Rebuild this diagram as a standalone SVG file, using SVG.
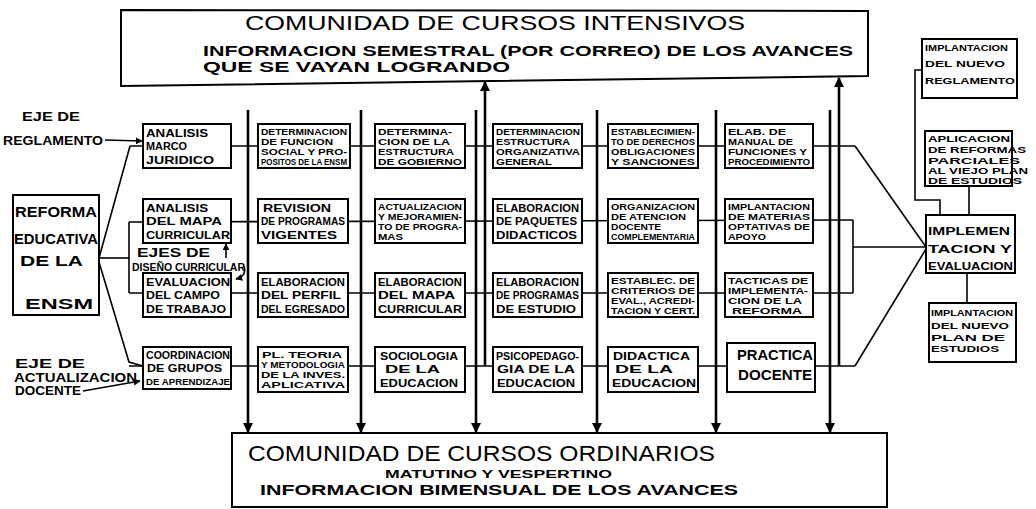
<svg xmlns="http://www.w3.org/2000/svg" width="1036" height="509" viewBox="0 0 1036 509">
<style>
.bx{fill:#fff;stroke:#000;stroke-width:2}
.t{font-family:"Liberation Sans",Arial,sans-serif;font-weight:bold;fill:#000}
.s9{font-size:9.5px}
.s11{font-size:11px}
.s13{font-size:13px}
.s14{font-size:14px}
.h{font-family:"Liberation Sans",Arial,sans-serif;fill:#000}
.ln{stroke:#000;stroke-width:1.6;fill:none}
.vl{stroke:#000;stroke-width:2.6;fill:none}
</style>
<defs>
<marker id="ah" viewBox="0 0 10 10" refX="9" refY="5" markerWidth="10" markerHeight="10" markerUnits="userSpaceOnUse" orient="auto"><path d="M0,0L10,5L0,10z" fill="#000"/></marker>
<marker id="sa" viewBox="0 0 10 10" refX="9" refY="5" markerWidth="7" markerHeight="7" markerUnits="userSpaceOnUse" orient="auto"><path d="M0,0L10,5L0,10z" fill="#000"/></marker>
</defs>
<rect width="1036" height="509" fill="#fff"/>

<g id="connectors">
  <line class="ln" x1="130" y1="146" x2="855" y2="146"/>
  <line class="ln" x1="129" y1="222" x2="853" y2="220"/>
  <line class="ln" x1="129" y1="293" x2="853" y2="293"/>
  <line class="ln" x1="129" y1="366" x2="855" y2="366"/>
  <line class="ln" x1="129" y1="222" x2="129" y2="293"/>
  <line class="ln" x1="853" y1="220" x2="853" y2="293"/>
  <line class="ln" x1="99" y1="258" x2="130" y2="146"/>
  <line class="ln" x1="99" y1="258" x2="129" y2="258"/>
  <polyline class="ln" points="99,262 129,362 143,366"/>
  <line class="ln" x1="855" y1="146" x2="926" y2="247"/>
  <line class="ln" x1="853" y1="247" x2="926" y2="247"/>
  <line class="ln" x1="855" y1="366" x2="926" y2="249"/>
  <line class="vl" x1="248" y1="110" x2="248" y2="432" marker-end="url(#ah)"/>
  <line class="vl" x1="361" y1="110" x2="361" y2="432" marker-end="url(#ah)"/>
  <line class="vl" x1="476" y1="110" x2="476" y2="432" marker-end="url(#ah)"/>
  <line class="vl" x1="485" y1="366" x2="485" y2="82" marker-end="url(#ah)"/>
  <line class="vl" x1="597" y1="110" x2="597" y2="432" marker-end="url(#ah)"/>
  <line class="vl" x1="716" y1="110" x2="716" y2="432" marker-end="url(#ah)"/>
  <line class="vl" x1="830" y1="110" x2="830" y2="432" marker-end="url(#ah)"/>
  <line class="vl" x1="839" y1="366" x2="839" y2="78" stroke-width="4" marker-end="url(#ah)"/>
  <polyline class="ln" points="922,70 915,70 915,200 940,200 940,215"/>
  <line class="ln" x1="969" y1="186" x2="969" y2="215"/>
  <line class="ln" x1="967" y1="273" x2="967" y2="303"/>
  <line class="ln" x1="105" y1="140" x2="142" y2="141" marker-end="url(#sa)"/>
  <line class="ln" x1="83" y1="391" x2="140" y2="381" marker-end="url(#sa)"/>
  <line class="ln" x1="226" y1="258" x2="226" y2="244" marker-end="url(#sa)"/>
  <path class="ln" d="M244,266 Q247,276 236,279" marker-end="url(#sa)"/>
</g>

<g id="comunidad-intensivos">
  <polygon class="bx" points="121,10 868,11 868,76 121,86"/>
  <text class="h" x="245" y="30" font-size="20" textLength="500" lengthAdjust="spacingAndGlyphs">COMUNIDAD DE CURSOS INTENSIVOS</text>
  <text class="t" x="203" y="56" font-size="15" textLength="650" lengthAdjust="spacingAndGlyphs">INFORMACION SEMESTRAL (POR CORREO) DE LOS AVANCES</text>
  <text class="t" x="203" y="72" font-size="14" textLength="307" lengthAdjust="spacingAndGlyphs">QUE SE VAYAN LOGRANDO</text>
</g>

<g id="comunidad-ordinarios">
  <rect class="bx" x="232" y="433" width="655" height="74"/>
  <text class="h" x="248" y="461" font-size="22" textLength="467" lengthAdjust="spacingAndGlyphs">COMUNIDAD DE CURSOS ORDINARIOS</text>
  <text class="t" x="385" y="478" font-size="11" textLength="227" lengthAdjust="spacingAndGlyphs">MATUTINO Y VESPERTINO</text>
  <text class="t" x="260" y="495" font-size="15" textLength="478" lengthAdjust="spacingAndGlyphs">INFORMACION BIMENSUAL DE LOS AVANCES</text>
</g>

<g id="eje-reglamento">
  <text class="t s13" x="22" y="121" textLength="58" lengthAdjust="spacingAndGlyphs">EJE DE</text>
  <text class="t s13" x="3" y="145" textLength="100" lengthAdjust="spacingAndGlyphs">REGLAMENTO</text>
</g>
<g id="eje-actualizacion">
  <text class="t s13" x="15" y="368" textLength="70" lengthAdjust="spacingAndGlyphs">EJE DE</text>
  <text class="t s13" x="14" y="382" textLength="123" lengthAdjust="spacingAndGlyphs">ACTUALIZACION</text>
  <text class="t s13" x="15" y="395" textLength="66" lengthAdjust="spacingAndGlyphs">DOCENTE</text>
</g>
<g id="ejes-diseno">
  <text class="t" x="137" y="257" font-size="12" textLength="73" lengthAdjust="spacingAndGlyphs">EJES DE</text>
  <text class="t" x="132" y="271" font-size="11" textLength="113" lengthAdjust="spacingAndGlyphs">DISEÑO CURRICULAR</text>
</g>

<g id="reforma">
  <rect class="bx" x="13" y="195" width="86" height="120"/>
  <text class="t s14" x="15" y="217" textLength="82" lengthAdjust="spacingAndGlyphs">REFORMA</text>
  <text class="t s14" x="14" y="244" textLength="84" lengthAdjust="spacingAndGlyphs">EDUCATIVA</text>
  <text class="t s14" x="20" y="266" textLength="63" lengthAdjust="spacingAndGlyphs">DE LA</text>
  <text class="t s14" x="25" y="309" textLength="68" lengthAdjust="spacingAndGlyphs">ENSM</text>
</g>

<!-- Row 1 -->
<g id="r1c1">
  <rect class="bx" x="143" y="124" width="88" height="44"/>
  <text class="t s11" x="146" y="136.5" textLength="62" lengthAdjust="spacingAndGlyphs">ANALISIS</text>
  <text class="t s11" x="146" y="150" textLength="41" lengthAdjust="spacingAndGlyphs">MARCO</text>
  <text class="t s11" x="146" y="163.5" textLength="68" lengthAdjust="spacingAndGlyphs">JURIDICO</text>
</g>
<g id="r1c2">
  <rect class="bx" x="258" y="124" width="92" height="44"/>
  <text class="t s9" x="261" y="134.5" textLength="86" lengthAdjust="spacingAndGlyphs">DETERMINACION</text>
  <text class="t s9" x="261" y="144.8" textLength="72" lengthAdjust="spacingAndGlyphs">DE FUNCION</text>
  <text class="t s9" x="261" y="155.1" textLength="86" lengthAdjust="spacingAndGlyphs">SOCIAL Y PRO-</text>
  <text class="t s9" x="261" y="165.4" textLength="86" lengthAdjust="spacingAndGlyphs">POSITOS DE LA ENSM</text>
</g>
<g id="r1c3">
  <rect class="bx" x="375" y="124" width="90" height="44"/>
  <text class="t s9" x="378" y="134.5" textLength="74" lengthAdjust="spacingAndGlyphs">DETERMINA-</text>
  <text class="t s9" x="378" y="144.8" textLength="72" lengthAdjust="spacingAndGlyphs">CION DE LA</text>
  <text class="t s9" x="378" y="155.1" textLength="76" lengthAdjust="spacingAndGlyphs">ESTRUCTURA</text>
  <text class="t s9" x="378" y="165.4" textLength="84" lengthAdjust="spacingAndGlyphs">DE GOBIERNO</text>
</g>
<g id="r1c4">
  <rect class="bx" x="493" y="124" width="89" height="44"/>
  <text class="t s9" x="496" y="134.5" textLength="84" lengthAdjust="spacingAndGlyphs">DETERMINACION</text>
  <text class="t s9" x="496" y="144.8" textLength="74" lengthAdjust="spacingAndGlyphs">ESTRUCTURA</text>
  <text class="t s9" x="496" y="155.1" textLength="84" lengthAdjust="spacingAndGlyphs">ORGANIZATIVA</text>
  <text class="t s9" x="496" y="165.4" textLength="56" lengthAdjust="spacingAndGlyphs">GENERAL</text>
</g>
<g id="r1c5">
  <rect class="bx" x="608" y="124" width="90" height="44"/>
  <text class="t s9" x="611" y="134.5" textLength="84" lengthAdjust="spacingAndGlyphs">ESTABLECIMIEN-</text>
  <text class="t s9" x="611" y="144.8" textLength="84" lengthAdjust="spacingAndGlyphs">TO DE DERECHOS</text>
  <text class="t s9" x="611" y="155.1" textLength="84" lengthAdjust="spacingAndGlyphs">OBLIGACIONES</text>
  <text class="t s9" x="611" y="165.4" textLength="84" lengthAdjust="spacingAndGlyphs">Y SANCIONES</text>
</g>
<g id="r1c6">
  <rect class="bx" x="725" y="124" width="88" height="44"/>
  <text class="t s9" x="728" y="134.5" textLength="58" lengthAdjust="spacingAndGlyphs">ELAB. DE</text>
  <text class="t s9" x="728" y="144.8" textLength="65" lengthAdjust="spacingAndGlyphs">MANUAL DE</text>
  <text class="t s9" x="728" y="155.1" textLength="79" lengthAdjust="spacingAndGlyphs">FUNCIONES Y</text>
  <text class="t s9" x="728" y="165.4" textLength="82" lengthAdjust="spacingAndGlyphs">PROCEDIMIENTO</text>
</g>

<!-- Row 2 -->
<g id="r2c1">
  <rect class="bx" x="143" y="199" width="88" height="44"/>
  <text class="t s11" x="146" y="211.5" textLength="62" lengthAdjust="spacingAndGlyphs">ANALISIS</text>
  <text class="t s11" x="146" y="225" textLength="76" lengthAdjust="spacingAndGlyphs">DEL MAPA</text>
  <text class="t s11" x="146" y="238.5" textLength="84" lengthAdjust="spacingAndGlyphs">CURRICULAR</text>
</g>
<g id="r2c2">
  <rect class="bx" x="258" y="199" width="90" height="44"/>
  <text class="t s11" x="263" y="211.5" textLength="68" lengthAdjust="spacingAndGlyphs">REVISION</text>
  <text class="t s11" x="261" y="225" textLength="84" lengthAdjust="spacingAndGlyphs">DE PROGRAMAS</text>
  <text class="t s11" x="261" y="238.5" textLength="76" lengthAdjust="spacingAndGlyphs">VIGENTES</text>
</g>
<g id="r2c3">
  <rect class="bx" x="375" y="199" width="90" height="44"/>
  <text class="t s9" x="378" y="209.5" textLength="84" lengthAdjust="spacingAndGlyphs">ACTUALIZACION</text>
  <text class="t s9" x="378" y="219.8" textLength="84" lengthAdjust="spacingAndGlyphs">Y MEJORAMIEN-</text>
  <text class="t s9" x="378" y="230.1" textLength="84" lengthAdjust="spacingAndGlyphs">TO DE PROGRA-</text>
  <text class="t s9" x="378" y="240.4" textLength="25" lengthAdjust="spacingAndGlyphs">MAS</text>
</g>
<g id="r2c4">
  <rect class="bx" x="493" y="199" width="89" height="44"/>
  <text class="t s11" x="496" y="211.5" textLength="83" lengthAdjust="spacingAndGlyphs">ELABORACION</text>
  <text class="t s11" x="496" y="225" textLength="81" lengthAdjust="spacingAndGlyphs">DE PAQUETES</text>
  <text class="t s11" x="496" y="238.5" textLength="81" lengthAdjust="spacingAndGlyphs">DIDACTICOS</text>
</g>
<g id="r2c5">
  <rect class="bx" x="608" y="199" width="90" height="44"/>
  <text class="t s9" x="611" y="209.5" textLength="84" lengthAdjust="spacingAndGlyphs">ORGANIZACION</text>
  <text class="t s9" x="611" y="219.8" textLength="75" lengthAdjust="spacingAndGlyphs">DE ATENCION</text>
  <text class="t s9" x="611" y="230.1" textLength="50" lengthAdjust="spacingAndGlyphs">DOCENTE</text>
  <text class="t s9" x="611" y="240.4" textLength="84" lengthAdjust="spacingAndGlyphs">COMPLEMENTARIA</text>
</g>
<g id="r2c6">
  <rect class="bx" x="725" y="199" width="88" height="44"/>
  <text class="t s9" x="728" y="209.5" textLength="82" lengthAdjust="spacingAndGlyphs">IMPLANTACION</text>
  <text class="t s9" x="728" y="219.8" textLength="82" lengthAdjust="spacingAndGlyphs">DE MATERIAS</text>
  <text class="t s9" x="728" y="230.1" textLength="82" lengthAdjust="spacingAndGlyphs">OPTATIVAS DE</text>
  <text class="t s9" x="728" y="240.4" textLength="38" lengthAdjust="spacingAndGlyphs">APOYO</text>
</g>

<!-- Row 3 -->
<g id="r3c1">
  <rect class="bx" x="143" y="273" width="88" height="44"/>
  <text class="t s11" x="146" y="285.5" textLength="84" lengthAdjust="spacingAndGlyphs">EVALUACION</text>
  <text class="t s11" x="146" y="299" textLength="74" lengthAdjust="spacingAndGlyphs">DEL CAMPO</text>
  <text class="t s11" x="146" y="312.5" textLength="80" lengthAdjust="spacingAndGlyphs">DE TRABAJO</text>
</g>
<g id="r3c2">
  <rect class="bx" x="258" y="273" width="90" height="44"/>
  <text class="t s11" x="261" y="285.5" textLength="84" lengthAdjust="spacingAndGlyphs">ELABORACION</text>
  <text class="t s11" x="261" y="299" textLength="80" lengthAdjust="spacingAndGlyphs">DEL PERFIL</text>
  <text class="t s11" x="261" y="312.5" textLength="84" lengthAdjust="spacingAndGlyphs">DEL EGRESADO</text>
</g>
<g id="r3c3">
  <rect class="bx" x="375" y="273" width="90" height="44"/>
  <text class="t s11" x="378" y="285.5" textLength="84" lengthAdjust="spacingAndGlyphs">ELABORACION</text>
  <text class="t s11" x="378" y="299" textLength="77" lengthAdjust="spacingAndGlyphs">DEL MAPA</text>
  <text class="t s11" x="378" y="312.5" textLength="84" lengthAdjust="spacingAndGlyphs">CURRICULAR</text>
</g>
<g id="r3c4">
  <rect class="bx" x="493" y="273" width="89" height="44"/>
  <text class="t s11" x="496" y="285.5" textLength="83" lengthAdjust="spacingAndGlyphs">ELABORACION</text>
  <text class="t s11" x="496" y="299" textLength="83" lengthAdjust="spacingAndGlyphs">DE PROGRAMAS</text>
  <text class="t s11" x="496" y="312.5" textLength="80" lengthAdjust="spacingAndGlyphs">DE ESTUDIO</text>
</g>
<g id="r3c5">
  <rect class="bx" x="608" y="273" width="90" height="44"/>
  <text class="t s9" x="611" y="283.5" textLength="84" lengthAdjust="spacingAndGlyphs">ESTABLEC. DE</text>
  <text class="t s9" x="611" y="293.8" textLength="84" lengthAdjust="spacingAndGlyphs">CRITERIOS DE</text>
  <text class="t s9" x="611" y="304.1" textLength="84" lengthAdjust="spacingAndGlyphs">EVAL., ACREDI-</text>
  <text class="t s9" x="611" y="314.4" textLength="84" lengthAdjust="spacingAndGlyphs">TACION Y CERT.</text>
</g>
<g id="r3c6">
  <rect class="bx" x="725" y="273" width="88" height="44"/>
  <text class="t s9" x="728" y="283.5" textLength="80" lengthAdjust="spacingAndGlyphs">TACTICAS DE</text>
  <text class="t s9" x="728" y="293.8" textLength="80" lengthAdjust="spacingAndGlyphs">IMPLEMENTA-</text>
  <text class="t s9" x="728" y="304.1" textLength="74" lengthAdjust="spacingAndGlyphs">CION DE LA</text>
  <text class="t s9" x="732" y="314.4" textLength="70" lengthAdjust="spacingAndGlyphs">REFORMA</text>
</g>

<!-- Row 4 -->
<g id="r4c1">
  <rect class="bx" x="143" y="347" width="88" height="42"/>
  <text class="t s11" x="146" y="359" textLength="84" lengthAdjust="spacingAndGlyphs">COORDINACION</text>
  <text class="t s11" x="147" y="372" textLength="75" lengthAdjust="spacingAndGlyphs">DE GRUPOS</text>
  <text class="t" font-size="9.5" x="146" y="384.5" textLength="84" lengthAdjust="spacingAndGlyphs">DE APRENDIZAJE</text>
</g>
<g id="r4c2">
  <rect class="bx" x="258" y="347" width="90" height="45"/>
  <text class="t s9" x="262" y="357.5" textLength="80" lengthAdjust="spacingAndGlyphs">PL. TEORIA</text>
  <text class="t s9" x="261" y="367.8" textLength="84" lengthAdjust="spacingAndGlyphs">Y METODOLOGIA</text>
  <text class="t s9" x="261" y="378.1" textLength="84" lengthAdjust="spacingAndGlyphs">DE LA INVES.</text>
  <text class="t s9" x="261" y="388.4" textLength="84" lengthAdjust="spacingAndGlyphs">APLICATIVA</text>
</g>
<g id="r4c3">
  <rect class="bx" x="375" y="347" width="90" height="45"/>
  <text class="t s11" x="380" y="359.5" textLength="78" lengthAdjust="spacingAndGlyphs">SOCIOLOGIA</text>
  <text class="t s11" x="385" y="373" textLength="55" lengthAdjust="spacingAndGlyphs">DE LA</text>
  <text class="t s11" x="380" y="386.5" textLength="78" lengthAdjust="spacingAndGlyphs">EDUCACION</text>
</g>
<g id="r4c4">
  <rect class="bx" x="493" y="347" width="89" height="45"/>
  <text class="t s11" x="496" y="359.5" textLength="83" lengthAdjust="spacingAndGlyphs">PSICOPEDAGO-</text>
  <text class="t s11" x="497" y="373" textLength="78" lengthAdjust="spacingAndGlyphs">GIA DE LA</text>
  <text class="t s11" x="497" y="386.5" textLength="78" lengthAdjust="spacingAndGlyphs">EDUCACION</text>
</g>
<g id="r4c5">
  <rect class="bx" x="608" y="347" width="90" height="45"/>
  <text class="t s11" x="613" y="359.5" textLength="77" lengthAdjust="spacingAndGlyphs">DIDACTICA</text>
  <text class="t s11" x="615" y="373" textLength="58" lengthAdjust="spacingAndGlyphs">DE LA</text>
  <text class="t s11" x="612" y="386.5" textLength="84" lengthAdjust="spacingAndGlyphs">EDUCACION</text>
</g>
<g id="r4c6">
  <rect class="bx" x="727" y="343" width="88" height="49"/>
  <text class="t s14" x="737" y="360" textLength="76" lengthAdjust="spacingAndGlyphs">PRACTICA</text>
  <text class="t s14" x="738" y="380" textLength="74" lengthAdjust="spacingAndGlyphs">DOCENTE</text>
</g>

<!-- Right side -->
<g id="nuevo-reglamento">
  <rect class="bx" x="922" y="39" width="95" height="59"/>
  <text class="t s9" x="925" y="50.5" textLength="83" lengthAdjust="spacingAndGlyphs">IMPLANTACION</text>
  <text class="t s9" x="925" y="66.5" textLength="80" lengthAdjust="spacingAndGlyphs">DEL NUEVO</text>
  <text class="t s9" x="925" y="83.5" textLength="90" lengthAdjust="spacingAndGlyphs">REGLAMENTO</text>
</g>
<g id="reformas-parciales">
  <rect class="bx" x="925" y="131" width="87" height="55"/>
  <text class="t" font-size="9" x="928" y="141.5" textLength="82" lengthAdjust="spacingAndGlyphs">APLICACION</text>
  <text class="t" font-size="9" x="928" y="153" textLength="98" lengthAdjust="spacingAndGlyphs">DE REFORMAS</text>
  <text class="t" font-size="9" x="928" y="164" textLength="92" lengthAdjust="spacingAndGlyphs">PARCIALES</text>
  <text class="t" font-size="9" x="928" y="174" textLength="100" lengthAdjust="spacingAndGlyphs">AL VIEJO PLAN</text>
  <text class="t" font-size="9" x="928" y="184" textLength="94" lengthAdjust="spacingAndGlyphs">DE ESTUDIOS</text>
</g>
<g id="implementacion">
  <rect class="bx" x="926" y="215" width="89" height="58"/>
  <text class="t s11" x="928" y="235" textLength="82" lengthAdjust="spacingAndGlyphs">IMPLEMEN</text>
  <text class="t s11" x="928" y="253" textLength="84" lengthAdjust="spacingAndGlyphs">TACION Y</text>
  <text class="t s11" x="928" y="270" textLength="85" lengthAdjust="spacingAndGlyphs">EVALUACION</text>
</g>
<g id="nuevo-plan">
  <rect class="bx" x="929" y="303" width="87" height="59"/>
  <text class="t s9" x="931" y="315.5" textLength="82" lengthAdjust="spacingAndGlyphs">IMPLANTACION</text>
  <text class="t s9" x="931" y="328.5" textLength="78" lengthAdjust="spacingAndGlyphs">DEL NUEVO</text>
  <text class="t s9" x="931" y="340.5" textLength="74" lengthAdjust="spacingAndGlyphs">PLAN DE</text>
  <text class="t s9" x="931" y="351.5" textLength="68" lengthAdjust="spacingAndGlyphs">ESTUDIOS</text>
</g>
</svg>
